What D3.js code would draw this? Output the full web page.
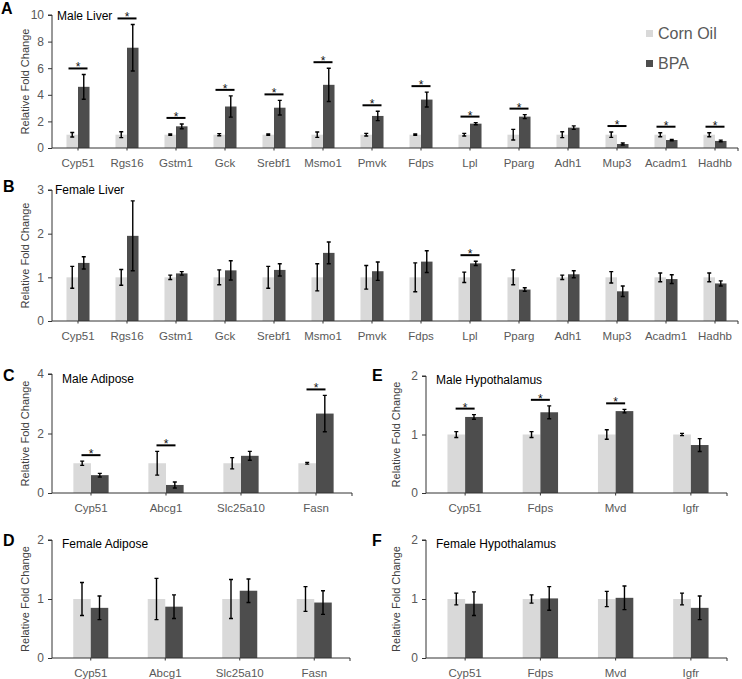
<!DOCTYPE html>
<html><head><meta charset="utf-8">
<script src="https://cdn.jsdelivr.net/npm/d3@7"></script>
<style>body{margin:0;background:#fff}svg{display:block;font-family:"Liberation Sans",Arial,sans-serif}</style>
</head><body>
<svg id="c" width="742" height="679"></svg>
<script>
// ---------- DATA ----------
const liverGenes = ["Cyp51","Rgs16","Gstm1","Gck","Srebf1","Msmo1","Pmvk","Fdps","Lpl","Pparg","Adh1","Mup3","Acadm1","Hadhb"];
const adiposeGenes = ["Cyp51","Abcg1","Slc25a10","Fasn"];
const hypoGenes = ["Cyp51","Fdps","Mvd","Igfr"];

// A: Male Liver
const maleLiverCO    = [1,1,1,1,1,1,1,1,1,1,1,1,1,1];
const maleLiverCOErr = [0.17,0.22,0.05,0.08,0.05,0.2,0.1,0.05,0.1,0.4,0.22,0.2,0.15,0.15];
const maleLiverBPA    = [4.6,7.54,1.63,3.12,3.03,4.75,2.41,3.64,1.83,2.36,1.53,0.3,0.6,0.53];
const maleLiverBPAErr = [0.93,1.75,0.18,0.8,0.55,1.25,0.35,0.56,0.08,0.15,0.13,0.08,0.05,0.06];
const maleLiverSig = [1,1,1,1,1,1,1,1,1,1,0,1,1,1];

// B: Female Liver
const femaleLiverCO    = [1,1,1,1,1,1,1,1,1,1,1,1,1,1];
const femaleLiverCOErr = [0.25,0.18,0.05,0.17,0.25,0.31,0.27,0.33,0.12,0.17,0.05,0.13,0.1,0.1];
const femaleLiverBPA    = [1.33,1.95,1.09,1.16,1.17,1.56,1.14,1.36,1.32,0.72,1.07,0.68,0.96,0.86];
const femaleLiverBPAErr = [0.14,0.8,0.04,0.22,0.14,0.25,0.21,0.25,0.05,0.04,0.08,0.12,0.1,0.06];
const femaleLiverSig = [0,0,0,0,0,0,0,0,1,0,0,0,0,0];

// C: Male Adipose
const maleAdiposeCO    = [1,1,1,1];
const maleAdiposeCOErr = [0.07,0.4,0.19,0.03];
const maleAdiposeBPA    = [0.6,0.27,1.25,2.67];
const maleAdiposeBPAErr = [0.06,0.1,0.15,0.61];
const maleAdiposeSig = [1,1,0,1];

// D: Female Adipose
const femaleAdiposeCO    = [1,1,1,1];
const femaleAdiposeCOErr = [0.28,0.35,0.33,0.21];
const femaleAdiposeBPA    = [0.85,0.87,1.14,0.94];
const femaleAdiposeBPAErr = [0.2,0.2,0.2,0.2];
const femaleAdiposeSig = [0,0,0,0];

// E: Male Hypothalamus
const maleHypoCO    = [1,1,1,1];
const maleHypoCOErr = [0.05,0.05,0.08,0.02];
const maleHypoBPA    = [1.3,1.38,1.4,0.82];
const maleHypoBPAErr = [0.04,0.11,0.03,0.11];
const maleHypoSig = [1,1,1,0];

// F: Female Hypothalamus
const femaleHypoCO    = [1,1,1,1];
const femaleHypoCOErr = [0.1,0.07,0.13,0.1];
const femaleHypoBPA    = [0.92,1.01,1.02,0.85];
const femaleHypoBPAErr = [0.2,0.2,0.2,0.2];
const femaleHypoSig = [0,0,0,0];

const ticksA = [0,2,4,6,8,10];
const ticksB = [0,1,2,3];
const ticksC = [0,2,4];
const ticks2 = [0,1,2];

const seriesNames = ["Corn Oil","BPA"];
// ---------- STYLE ----------
const COL_CO = "#d9d9d9", COL_BPA = "#4d4d4d", TXT = "#595959";
const svg = d3.select("#c");

function panel(o){
  const g = svg.append("g");
  const x = d3.scaleBand().domain(o.cats).range([o.left, o.right]);
  const y = d3.scaleLinear().domain([0, d3.max(o.ticks)]).range([o.bottom, o.top]);
  const bw = x.bandwidth()*0.235;
  const off = 1.5;
  const cx = c => x(c) + x.bandwidth()/2 + off;

  const rows = o.cats.map((c,i)=>({c, co:o.co[i], coE:o.coE[i], b:o.bpa[i], bE:o.bpaE[i], s:o.sig[i]}));
  g.selectAll(".co").data(rows).join("rect")
    .attr("x", d=>cx(d.c)-bw).attr("width", bw)
    .attr("y", d=>y(d.co)).attr("height", d=>y(0)-y(d.co)).attr("fill", COL_CO);
  g.selectAll(".bpa").data(rows).join("rect")
    .attr("x", d=>cx(d.c)).attr("width", bw)
    .attr("y", d=>y(d.b)).attr("height", d=>y(0)-y(d.b)).attr("fill", COL_BPA);

  const eb = (xc, v, e) => {
    const p = d3.path();
    p.moveTo(xc, y(v+e)); p.lineTo(xc, y(v-e));
    p.moveTo(xc-2, y(v+e)); p.lineTo(xc+2, y(v+e));
    p.moveTo(xc-2, y(v-e)); p.lineTo(xc+2, y(v-e));
    return p.toString();
  };
  g.selectAll(".ebc").data(rows).join("path")
    .attr("d", d=>eb(cx(d.c)-bw/2, d.co, d.coE)).attr("stroke","#000").attr("stroke-width",1.4).attr("fill","none");
  g.selectAll(".ebb").data(rows).join("path")
    .attr("d", d=>eb(cx(d.c)+bw/2, d.b, d.bE)).attr("stroke","#000").attr("stroke-width",1.4).attr("fill","none");

  const sig = rows.filter(d=>d.s);
  const ly = d => Math.min(y(d.co+d.coE), y(d.b+d.bE)) - 6;
  g.selectAll(".sl").data(sig).join("line")
    .attr("x1", d=>cx(d.c)-9.5).attr("x2", d=>cx(d.c)+9.5)
    .attr("y1", ly).attr("y2", ly).attr("stroke","#000").attr("stroke-width",2);
  g.selectAll(".st").data(sig).join("text")
    .attr("x", d=>cx(d.c)).attr("y", d=>ly(d)+3).attr("text-anchor","middle")
    .attr("font-size",12).attr("fill","#111").text("*");

  const ya = d3.axisLeft(y).tickValues(o.ticks).tickSize(4).tickPadding(4).tickFormat(d3.format("d"));
  const yg = g.append("g").attr("transform",`translate(${o.left},0)`).call(ya);
  yg.select(".domain").attr("stroke","#333").attr("d",`M-4,${o.top}H0V${o.bottom}`);
  yg.selectAll(".tick line").attr("stroke","#333");
  yg.selectAll(".tick text").attr("fill",TXT).attr("font-size",12).attr("font-family","Liberation Sans, Arial, sans-serif");

  const xa = d3.axisBottom(x).tickSize(0).tickPadding(0);
  const xg = g.append("g").attr("transform",`translate(0,${o.bottom})`).call(xa);
  xg.select(".domain").attr("stroke","#333").attr("d",`M${o.left},0H${o.right}V3`);
  xg.selectAll(".tick").attr("transform", d=>`translate(${cx(d)},0)`);
  xg.selectAll(".tick line").attr("y2",2.5).attr("stroke","#333");
  xg.selectAll(".tick text").attr("fill",TXT).attr("font-size",11.5).attr("dy",0).attr("y",19)
    .attr("font-family","Liberation Sans, Arial, sans-serif");

  g.append("text").attr("transform",`translate(${o.ylx},${(o.top+o.bottom)/2}) rotate(-90)`)
    .attr("text-anchor","middle").attr("font-size",11).attr("fill","#404040").text("Relative Fold Change");
  g.append("text").attr("x",o.tx).attr("y",o.ty).attr("font-size",12).attr("fill","#000").text(o.title);
  g.append("text").attr("x",o.lx).attr("y",o.ly).attr("font-size",16).attr("font-weight","bold").attr("fill","#000").text(o.letter);
}

panel({cats:liverGenes, co:maleLiverCO, coE:maleLiverCOErr, bpa:maleLiverBPA, bpaE:maleLiverBPAErr, sig:maleLiverSig,
  ticks:ticksA, left:52, right:738, top:15, bottom:148, title:"Male Liver", tx:57, ty:20, letter:"A", lx:1, ly:14, ylx:29});
panel({cats:liverGenes, co:femaleLiverCO, coE:femaleLiverCOErr, bpa:femaleLiverBPA, bpaE:femaleLiverBPAErr, sig:femaleLiverSig,
  ticks:ticksB, left:52, right:738, top:190, bottom:321, title:"Female Liver", tx:55, ty:194, letter:"B", lx:3, ly:192, ylx:29});
panel({cats:adiposeGenes, co:maleAdiposeCO, coE:maleAdiposeCOErr, bpa:maleAdiposeBPA, bpaE:maleAdiposeBPAErr, sig:maleAdiposeSig,
  ticks:ticksC, left:52, right:352, top:374, bottom:493, title:"Male Adipose", tx:62, ty:383, letter:"C", lx:3, ly:381, ylx:29});
panel({cats:hypoGenes, co:maleHypoCO, coE:maleHypoCOErr, bpa:maleHypoBPA, bpaE:maleHypoBPAErr, sig:maleHypoSig,
  ticks:ticks2, left:426, right:727, top:376, bottom:493, title:"Male Hypothalamus", tx:436, ty:384, letter:"E", lx:372, ly:381, ylx:400});
panel({cats:adiposeGenes, co:femaleAdiposeCO, coE:femaleAdiposeCOErr, bpa:femaleAdiposeBPA, bpaE:femaleAdiposeBPAErr, sig:femaleAdiposeSig,
  ticks:ticks2, left:52, right:350, top:540, bottom:658, title:"Female Adipose", tx:62, ty:548, letter:"D", lx:3, ly:546, ylx:29});
panel({cats:hypoGenes, co:femaleHypoCO, coE:femaleHypoCOErr, bpa:femaleHypoBPA, bpaE:femaleHypoBPAErr, sig:femaleHypoSig,
  ticks:ticks2, left:426, right:727, top:540, bottom:658, title:"Female Hypothalamus", tx:436, ty:548, letter:"F", lx:372, ly:546, ylx:400});

const leg = svg.append("g");
leg.selectAll("rect").data(seriesNames).join("rect")
  .attr("x",646).attr("y",(d,i)=>30+i*30).attr("width",7).attr("height",7)
  .attr("fill",(d,i)=>i?COL_BPA:COL_CO);
leg.selectAll("text").data(seriesNames).join("text")
  .attr("x",658).attr("y",(d,i)=>39+i*30).attr("font-size",16).attr("fill",TXT).text(d=>d);
</script>
</body></html>
